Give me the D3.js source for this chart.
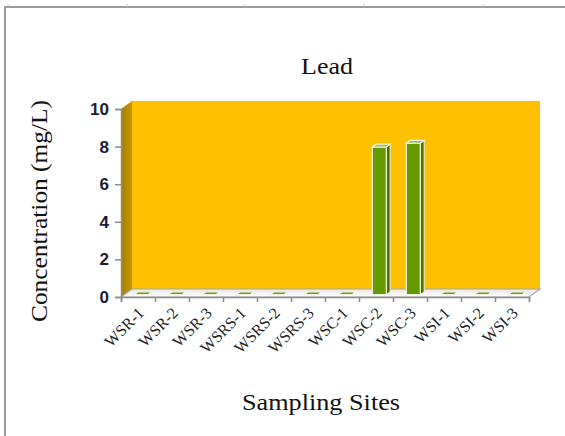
<!DOCTYPE html>
<html>
<head>
<meta charset="utf-8">
<script src="https://cdn.jsdelivr.net/npm/d3@7"></script>
<style>
  body { margin: 0; background: #fff; }
  svg { display: block; }
</style>
</head>
<body>
<div id="chart"></div>
<script>
// chart data
var sites = ["WSR-1", "WSR-2", "WSR-3", "WSRS-1", "WSRS-2", "WSRS-3",
  "WSC-1", "WSC-2", "WSC-3", "WSI-1", "WSI-2", "WSI-3"];
var lead = [0, 0, 0, 0, 0, 0, 0, 7.85, 8.05, 0, 0, 0];
var yTicks = [0, 2, 4, 6, 8, 10];

var svgWidth = 565;
var svgHeight = 436;

// front plane of the 3d box and its depth offset
var plotLeft = 121, plotRight = 529, plotBase = 297, plotTop = 109;
var dx = 11, dy = -8;
var barW = 14, d1 = 0.3, d2 = 0.65;

var svg = d3.select("#chart")
  .append("svg")
  .attr("width", svgWidth)
  .attr("height", svgHeight);

var defs = svg.append("defs");
var sideGrad = defs.append("linearGradient").attr("id", "sideWall")
  .attr("x1", 0).attr("x2", 1).attr("y1", 0).attr("y2", 0);
sideGrad.append("stop").attr("offset", "0%").attr("stop-color", "#a57c00");
sideGrad.append("stop").attr("offset", "100%").attr("stop-color", "#c99800");

var floorGrad = defs.append("linearGradient").attr("id", "floor")
  .attr("x1", 0).attr("x2", 0).attr("y1", 0).attr("y2", 1);
floorGrad.append("stop").attr("offset", "0%").attr("stop-color", "#e6e6e6");
floorGrad.append("stop").attr("offset", "100%").attr("stop-color", "#ffffff");

// frame of the embedded object
svg.append("path")
  .attr("d", "M5,436 V7 H565")
  .attr("fill", "none")
  .attr("stroke", "#9a9a9a")
  .attr("stroke-width", 2);
[8, 127, 245, 364, 483].forEach(function(x) {
  svg.append("line")
    .attr("x1", x).attr("x2", x).attr("y1", 4).attr("y2", 7)
    .attr("stroke", "#c8c8c8");
});

// scales
var xScale = d3.scaleBand()
  .domain(sites)
  .range([plotLeft, plotRight])
  .padding(0);

var xEdge = d3.scaleLinear()
  .domain([0, sites.length])
  .range([plotLeft, plotRight]);

var yScale = d3.scaleLinear()
  .domain([0, 10])
  .range([plotBase, plotTop]);

// back wall
svg.append("rect")
  .attr("x", plotLeft + dx)
  .attr("y", yScale(10) + dy)
  .attr("width", plotRight - plotLeft)
  .attr("height", yScale(0) - yScale(10))
  .attr("fill", "#ffc000");

// side wall
svg.append("polygon")
  .attr("points", [
    [plotLeft, yScale(0)], [plotLeft, yScale(10)],
    [plotLeft + dx, yScale(10) + dy], [plotLeft + dx, yScale(0) + dy]
  ].join(" "))
  .attr("fill", "url(#sideWall)");

// floor
svg.append("polygon")
  .attr("points", [
    [plotLeft, yScale(0)], [plotRight, yScale(0)],
    [plotRight + dx, yScale(0) + dy], [plotLeft + dx, yScale(0) + dy]
  ].join(" "))
  .attr("fill", "url(#floor)")
  .attr("stroke", "#a6a6a6")
  .attr("stroke-width", 1.2);

// 3d bars
var barGroup = svg.append("g");
sites.forEach(function(s, i) {
  var x0 = xScale(s) + (xScale.bandwidth() - barW) / 2 + dx * d1;
  var x1 = x0 + barW;
  var yb = yScale(0) + dy * d1;
  var yt = yScale(lead[i]) + dy * d1;
  var ox = dx * (d2 - d1), oy = dy * (d2 - d1);

  var g = barGroup.append("g");
  if (lead[i] > 0) {
    // side face
    g.append("polygon")
      .attr("points", [[x1, yb], [x1, yt], [x1 + ox, yt + oy], [x1 + ox, yb + oy]].join(" "))
      .attr("fill", "#4b7300")
      .attr("stroke", "#f2f2e0")
      .attr("stroke-width", 1);
    // front face
    g.append("rect")
      .attr("x", x0)
      .attr("y", yt)
      .attr("width", barW)
      .attr("height", yb - yt)
      .attr("fill", "#669900")
      .attr("stroke", "#f4f4e4")
      .attr("stroke-width", 1.2);
  }
  // top face
  g.append("polygon")
    .attr("points", [[x0, yt], [x1, yt], [x1 + ox, yt + oy], [x0 + ox, yt + oy]].join(" "))
    .attr("fill", lead[i] > 0 ? "#9cbf5a" : "#6f9a1e")
    .attr("stroke", "#f4f4e4")
    .attr("stroke-width", 1.2);
});

// y axis
var yAxis = svg.append("g")
  .attr("transform", `translate(${plotLeft}, 0)`)
  .call(d3.axisLeft(yScale).tickValues(yTicks).tickSize(6).tickPadding(6));
yAxis.select(".domain").attr("stroke", "#8c8c8c").attr("stroke-width", 1.5);
yAxis.selectAll(".tick line").attr("stroke", "#8c8c8c").attr("stroke-width", 1.5);
yAxis.selectAll("text")
  .attr("font-family", "'Liberation Sans', sans-serif")
  .attr("font-weight", "bold")
  .attr("font-size", "17px")
  .attr("fill", "#1b1b33");

// x axis tick marks sit between categories
var xAxis = svg.append("g")
  .attr("transform", `translate(0, ${plotBase})`)
  .call(d3.axisBottom(xEdge).ticks(sites.length).tickSize(5).tickFormat(""));
xAxis.select(".domain").attr("stroke", "#8c8c8c").attr("stroke-width", 1.5);
xAxis.selectAll(".tick line").attr("stroke", "#8c8c8c").attr("stroke-width", 1.5);

// category labels
svg.append("g")
  .selectAll("text")
  .data(sites)
  .enter()
  .append("text")
  .attr("transform", d => `translate(${xScale(d) + xScale.bandwidth() / 2 + 7}, ${plotBase + 17}) rotate(-45)`)
  .attr("text-anchor", "end")
  .attr("font-family", "'Liberation Serif', serif")
  .attr("font-size", "16px")
  .attr("fill", "#222")
  .text(d => d);

// titles
svg.append("text")
  .attr("x", 327)
  .attr("y", 74)
  .attr("text-anchor", "middle")
  .attr("font-family", "'Liberation Serif', serif")
  .attr("font-size", "23px")
  .attr("textLength", 52)
  .attr("lengthAdjust", "spacingAndGlyphs")
  .attr("fill", "#111")
  .text("Lead");

svg.append("text")
  .attr("x", 321)
  .attr("y", 410)
  .attr("text-anchor", "middle")
  .attr("font-family", "'Liberation Serif', serif")
  .attr("font-size", "23px")
  .attr("textLength", 158)
  .attr("lengthAdjust", "spacingAndGlyphs")
  .attr("fill", "#111")
  .text("Sampling Sites");

svg.append("text")
  .attr("transform", "translate(47, 211) rotate(-90)")
  .attr("text-anchor", "middle")
  .attr("font-family", "'Liberation Serif', serif")
  .attr("font-size", "23px")
  .attr("textLength", 222)
  .attr("lengthAdjust", "spacingAndGlyphs")
  .attr("fill", "#111")
  .text("Concentration (mg/L)");
</script>
</body>
</html>
